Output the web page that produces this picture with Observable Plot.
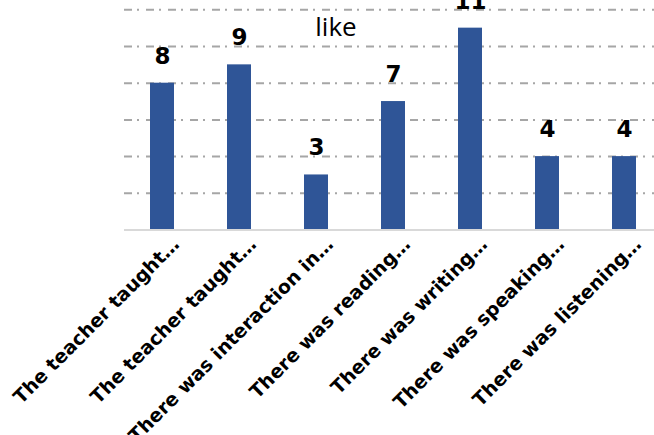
<!DOCTYPE html>
<html>
<head>
<meta charset="utf-8">
<script src="https://cdn.jsdelivr.net/npm/d3@7"></script>
<script src="https://cdn.jsdelivr.net/npm/@observablehq/plot@0.6"></script>
<style>
  html, body { margin: 0; padding: 0; background: #fff; }
  #wrap { position: relative; width: 654px; height: 435px; overflow: hidden; }
  #title { position: absolute; left: 0; width: 672px; top: 13px; text-align: center;
           font-family: "Open Sans", sans-serif; font-size: 26px; line-height: 26px; color: #000; }
  #chart { position: absolute; left: 0; top: 0; }
</style>
</head>
<body>
<div id="wrap">
  <div id="chart"></div>
  <div id="title">like</div>
</div>
<script>
const categories = [
  "The teacher taught…",
  "The teacher taught… ",
  "There was interaction in…",
  "There was reading…",
  "There was writing…",
  "There was speaking…",
  "There was listening…"
];
const values = [8, 9, 3, 7, 11, 4, 4];
const gridTicks = [2, 4, 6, 8, 10, 12];

const data = categories.map((c, i) => ({category: c, value: values[i]}));

const chart = Plot.plot({
  width: 654,
  height: 435,
  marginLeft: 124,
  marginRight: 0,
  marginTop: 0,
  marginBottom: 0,
  style: {background: "transparent", overflow: "visible"},
  x: {type: "band", domain: categories, range: [123.5, 662.5], paddingInner: 0.69, paddingOuter: 0.345, axis: null},
  y: {domain: [0, 12], range: [229.5, 9.3], axis: null},
  marks: [
    Plot.ruleY(gridTicks, {stroke: "#a6a6a6", strokeWidth: 2, strokeDasharray: "8,5,2,7"}),
    Plot.barY(data, {x: "category", y: "value", fill: "#2f5597"}),
    Plot.ruleY([0], {stroke: "#d9d9d9", strokeWidth: 2}),
    Plot.text(data, {x: "category", y: "value", text: d => String(d.value), dy: -27,
      fontFamily: "DejaVu Sans", fontWeight: "bold", fontSize: 23, fill: "#000"}),
    Plot.text(data, {x: "category", y: () => 0, text: d => d.category.trim(), dx: 18, dy: 15.5,
      rotate: -45, textAnchor: "end", lineAnchor: "bottom",
      fontFamily: "DejaVu Sans", fontWeight: "bold", fontSize: 19, fill: "#000"})
  ]
});
document.getElementById("chart").appendChild(chart);
</script>
</body>
</html>
